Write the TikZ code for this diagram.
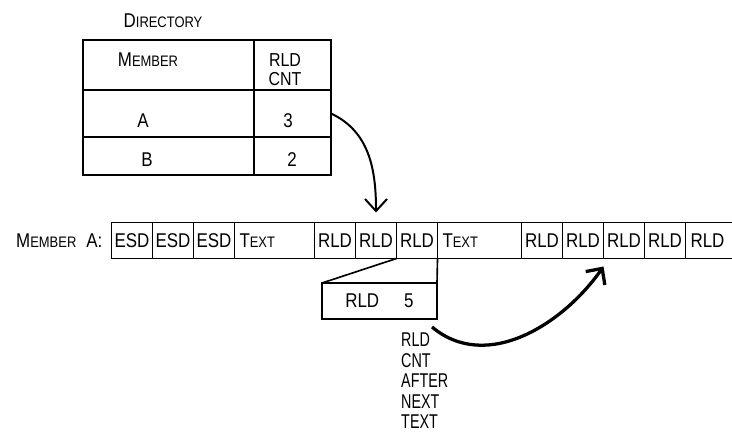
\documentclass[tikz,border=0pt]{standalone}
\usepackage{fontspec}
\setmainfont{Liberation Sans}[FakeStretch=0.85]
\newfontfamily\tallfont{Liberation Sans}[FakeStretch=0.72]
\usetikzlibrary{positioning,arrows.meta}
\newcommand{\lowcaps}[1]{{\fontsize{13}{15}\selectfont #1}}

\begin{document}
\begin{tikzpicture}[x=0.03cm, y=0.03cm,
    every node/.style={font=\fontsize{17}{19}\selectfont},
    tcell/.style={draw, line width=1.4pt, outer sep=0pt, inner sep=0pt},
    cell/.style={draw, line width=1.4pt, outer sep=0pt, inner sep=0pt, minimum width=1.23cm, minimum height=1.08cm},
    txtcell/.style={cell, inner xsep=0.15cm, text width=#1, align=left},
    stack/.style={font=\tallfont\fontsize{17}{17.5}\selectfont, align=left, inner sep=0pt},
    pointer/.style={line width=1.7pt, -{Straight Barb[length=0.36cm, width=0.66cm]}}]
    \useasboundingbox (0,0) rectangle (732,-433);
    % directory table
    \node (dirtitle) at (163,-21) {D\lowcaps{IRECTORY}};
    \node[tcell, minimum width=5.13cm, minimum height=1.5cm] (hdmem) at (168.5,-65) {};
    \node[tcell, minimum width=2.31cm, minimum height=1.5cm] (hdcnt) at (292.5,-65) {};
    \node[tcell, minimum width=5.13cm, minimum height=1.41cm] (memA) at (168.5,-113.5) {};
    \node[tcell, minimum width=2.31cm, minimum height=1.41cm] (cntA) at (292.5,-113.5) {};
    \node[tcell, minimum width=5.13cm, minimum height=1.14cm] (memB) at (168.5,-156) {};
    \node[tcell, minimum width=2.31cm, minimum height=1.14cm] (cntB) at (292.5,-156) {};
    \node (hdmemtxt) at (148,-60) {M\lowcaps{EMBER}};
    \node[align=center, font=\fontsize{16}{16.2}\selectfont] (hdcnttxt) at (285,-70) {RLD\\CNT};
    \node (memAtxt) at (143,-121) {A};
    \node (cntAtxt) at (288,-121) {3};
    \node (memBtxt) at (147,-160) {B};
    \node (cntBtxt) at (292,-160) {2};
    % member A records
    \node[cell] (esd1) at (132,-240.5) {ESD};
    \node[cell, right=0pt of esd1] (esd2) {ESD};
    \node[cell, right=0pt of esd2] (esd3) {ESD};
    \node[txtcell=2.1cm, right=0pt of esd3] (text1) {T\lowcaps{EXT}};
    \node[cell, right=0pt of text1] (rld1) {RLD};
    \node[cell, right=0pt of rld1] (rld2) {RLD};
    \node[cell, right=0pt of rld2] (rld3) {RLD};
    \node[txtcell=2.22cm, right=0pt of rld3] (text2) {T\lowcaps{EXT}};
    \node[cell, right=0pt of text2] (rld4) {RLD};
    \node[cell, right=0pt of rld4] (rld5) {RLD};
    \node[cell, right=0pt of rld5] (rld6) {RLD};
    \node[cell, right=0pt of rld6] (rld7) {RLD};
    \node[txtcell=1.14cm, draw=none, right=0pt of rld7] (rld8) {RLD};
    \draw[line width=1.4pt] (rld8.north west) -- (rld8.north east) (rld8.south west) -- (rld8.south east);
    \node[left=0.15cm of esd1] (memlabel) {M\lowcaps{EMBER}\hspace{0.3cm}A:};
    % blow-up of the third RLD
    \node[cell, minimum width=3.45cm] (rldfive) at (379.5,-301) {RLD\hspace{0.75cm}5};
    \draw[line width=1.4pt] (rld3.south west) -- (rldfive.north west);
    \draw[line width=1.4pt] (rld3.south east) -- (rldfive.north east);
    \node[stack, anchor=north west] (rldnote) at (401,-333) {RLD\\CNT\\AFTER\\NEXT\\TEXT};
    % pointers
    \draw[pointer] (cntA.east) to[out=-25, in=90] ([yshift=0.3cm]rld2.north);
    \draw[pointer, line width=2.8pt, -{Straight Barb[length=0.36cm, width=0.7cm]}] ([shift={(-0.15cm,-0.24cm)}]rldfive.south east) to[out=-40, in=-125] ([yshift=-0.24cm]rld6.south west);
\end{tikzpicture}
\end{document}
